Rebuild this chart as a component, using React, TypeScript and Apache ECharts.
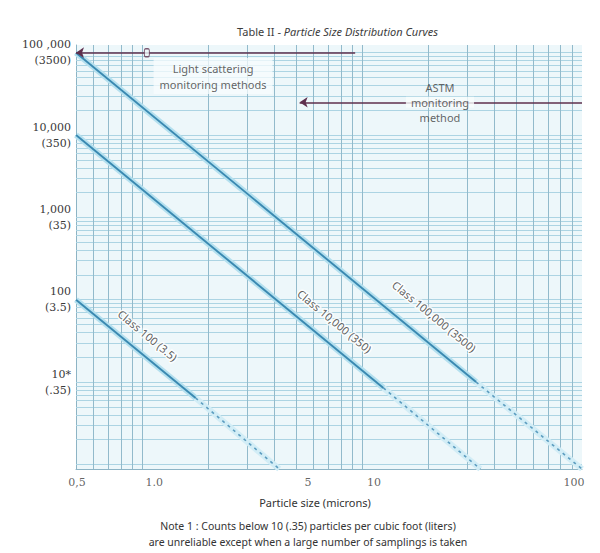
import React, { useEffect, useRef } from "react";
import * as echarts from "echarts";

// ---- data ----
const xTickValues = [0.5, 1, 5, 10, 100];
const xTickLabels = ["0,5", "1.0", "5", "10", "100"];
const yTickValues = [100000, 10000, 1000, 100, 10];
const yTickCounts = ["100 ,000", "10,000", "1,000", "100", "10*"];
const yTickLiters = ["(3500)", "(350)", "(35)", "(3.5)", "(.35)"];

const classNames = ["Class 100,000 (3500)", "Class 10,000 (350)", "Class 100 (3.5)"];
// reliable part (solid) and extrapolated part (dashed): [particle size µm, count]
const class100000Solid = [[0.5, 100000], [33, 10]];
const class100000Dashed = [[33, 10], [100, 0.88]];
const class10000Solid = [[0.5, 10000], [12.5, 8.5]];
const class10000Dashed = [[12.5, 8.5], [34.5, 0.88]];
const class100Solid = [[0.5, 100], [1.75, 6.4]];
const class100Dashed = [[1.75, 6.4], [4.2, 0.88]];
const classLabelAt = [[21.3, 63], [7.5, 55], [1.06, 37]];

// monitoring method ranges
const lightScatterRange = [9.3, 0.5]; // µm, arrow points to 0.5
const lightScatterCount = 100000;
const lightScatterMark = [1.05, 100000];
const astmRange = [100, 5.2];
const astmCount = 25000;
const lightScatterTextAt = [2.1, 52000];
const astmTextAt = [22.6, 25000];

const X_MIN = 0.5;
const X_MAX = 100;
const Y_MIN = 0.88;
const Y_MAX = 124000;

const PLOT_BG = "#edf7fa";
const SANS = "'Noto Sans', 'Open Sans', sans-serif";
const SERIF = "'DejaVu Serif', serif";
// horizontal nudges of the x tick labels, as printed in the reference
const xLabelNudge = [1, 12, 12, 12, -8];

export default function App() {
  const ref = useRef<HTMLDivElement>(null);

  useEffect(() => {
    if (!ref.current) return;
    const chart = echarts.init(ref.current, undefined, { renderer: "svg" });

    // grid lines at 1..9 of every decade (log paper)
    const xGrid: number[] = [];
    for (const d of [0.1, 1, 10]) {
      for (let m = 1; m <= 9; m++) {
        const v = +(m * d).toPrecision(3);
        if (v > X_MIN && v < X_MAX) xGrid.push(v);
      }
    }
    const yGrid: number[] = [];
    for (const d of [1, 10, 100, 1000, 10000]) {
      for (let m = 1; m <= 9; m++) yGrid.push(m * d);
    }
    yGrid.push(100000);

    const curve = (data: number[][], dashed: boolean, z: number) => [
      {
        type: "line",
        data,
        symbol: "none",
        silent: true,
        z,
        lineStyle: {
          color: dashed ? "#d2edf6" : "#b4e0ef",
          width: 6,
          type: "solid",
        },
      },
      {
        type: "line",
        data,
        symbol: "none",
        silent: true,
        z: z + 1,
        lineStyle: {
          color: dashed ? "#5b9cbf" : "#3a89b1",
          width: dashed ? 1.6 : 1.9,
          type: dashed ? [3, 4] : "solid",
        },
      },
    ];

    const option: any = {
      animation: false,
      backgroundColor: "#ffffff",
      title: {
        text: "{a|Table II - }{b|Particle Size Distribution Curves}",
        left: 232,
        top: 21,
        textStyle: {
          fontWeight: "normal",
          rich: {
            a: { fontFamily: SANS, fontSize: 11, color: "#3c3c3c", fontWeight: "normal" },
            b: {
              fontFamily: SANS,
              fontSize: 11,
              color: "#3c3c3c",
              fontStyle: "italic",
              fontWeight: "normal",
            },
          },
        },
      },
      grid: {
        left: 76,
        right: 18,
        top: 45,
        bottom: 84,
        show: true,
        backgroundColor: PLOT_BG,
        borderWidth: 0,
      },
      xAxis: {
        type: "log",
        logBase: 10,
        min: X_MIN,
        max: X_MAX,
        axisLine: { show: true, onZero: false, lineStyle: { color: "#8db4c5", width: 1 } },
        axisTick: { show: false },
        axisLabel: { show: false },
        splitLine: { show: false },
      },
      yAxis: {
        type: "log",
        logBase: 10,
        min: Y_MIN,
        max: Y_MAX,
        axisLine: { show: true, onZero: false, lineStyle: { color: "#8db4c5", width: 1 } },
        axisTick: { show: false },
        splitLine: { show: false },
        axisLabel: {
          margin: 5,
          showMaxLabel: false,
          showMinLabel: false,
          formatter: (v: number) => {
            const i = yTickValues.findIndex(
              (t) => Math.abs(Math.log10(v) - Math.log10(t)) < 0.01
            );
            if (i < 0) return "";
            return `{c|${yTickCounts[i]}}\n{l|${yTickLiters[i]}}`;
          },
          rich: {
            c: { fontFamily: SERIF, fontSize: 11, color: "#3a3a3a", lineHeight: 16, align: "right" },
            l: { fontFamily: SERIF, fontSize: 11, color: "#3a3a3a", lineHeight: 16, align: "right" },
          },
        },
      },
      series: [
        // log-paper grid
        {
          type: "line",
          data: [],
          silent: true,
          z: 1,
          markLine: {
            z: 1,
            silent: true,
            symbol: ["none", "none"],
            label: { show: false },
            animation: false,
            data: [
              ...yGrid.map((v) => ({
                yAxis: v,
                lineStyle: { color: "#acd4e3", width: 1, type: "solid" },
              })),
              ...xGrid.map((v) => ({
                xAxis: v,
                lineStyle: { color: "#92bacb", width: 1, type: "solid" },
              })),
            ],
          },
        },
        ...curve(class100000Solid, false, 3),
        ...curve(class100000Dashed, true, 3),
        ...curve(class10000Solid, false, 3),
        ...curve(class10000Dashed, true, 3),
        ...curve(class100Solid, false, 3),
        ...curve(class100Dashed, true, 3),
        // monitoring range arrows
        {
          type: "line",
          data: [],
          silent: true,
          z: 6,
          markLine: {
            z: 6,
            silent: true,
            animation: false,
            symbol: ["none", "arrow"],
            symbolSize: 8,
            label: { show: false },
            lineStyle: { color: "#5e2f4d", width: 1.6, type: "solid" },
            data: [
              [
                { coord: [lightScatterRange[0], lightScatterCount] },
                { coord: [lightScatterRange[1], lightScatterCount] },
              ],
              [
                { coord: [astmRange[0], astmCount] },
                { coord: [astmRange[1], astmCount] },
              ],
            ],
          },
        },
        {
          type: "scatter",
          data: [lightScatterMark],
          silent: true,
          z: 7,
          symbol: "roundRect",
          symbolSize: [5, 8],
          itemStyle: { color: PLOT_BG, borderColor: "#5e2f4d", borderWidth: 1.2 },
        },
        // annotations
        {
          type: "scatter",
          data: [lightScatterTextAt],
          silent: true,
          z: 8,
          symbolSize: 0,
          label: {
            show: true,
            position: "inside",
            formatter: "Light scattering\nmonitoring methods",
            fontFamily: SANS,
            fontSize: 11,
            lineHeight: 16,
            color: "#3c3c3c",
            align: "center",
            backgroundColor: "rgba(248,252,253,0.92)",
            padding: [2, 6],
          },
        },
        {
          type: "scatter",
          data: [astmTextAt],
          silent: true,
          z: 8,
          symbolSize: 0,
          label: {
            show: true,
            position: "inside",
            formatter: "{n|ASTM}\n{m|monitoring}\n{n|method}",
            rich: {
              n: { fontFamily: SANS, fontSize: 11, lineHeight: 15, color: "#3c3c3c", align: "center" },
              m: {
                fontFamily: SANS,
                fontSize: 11,
                lineHeight: 15,
                color: "#3c3c3c",
                align: "center",
                backgroundColor: "#f8fcfd",
                padding: [0, 5],
              },
            },
          },
        },
        {
          type: "scatter",
          data: classLabelAt.map((p, i) => ({ value: p, name: classNames[i] })),
          silent: true,
          z: 8,
          symbolSize: 0,
          label: {
            show: true,
            position: "inside",
            rotate: -39.5,
            formatter: (p: any) => classNames[p.dataIndex],
            fontFamily: SANS,
            fontSize: 11,
            color: "#333",
            textBorderColor: "#ffffff",
            textBorderWidth: 3,
          },
        },
        // x tick labels
        {
          type: "scatter",
          data: xTickValues.map((v, i) => ({
            value: [v, Y_MIN],
            label: { offset: [xLabelNudge[i], 0] },
          })),
          silent: true,
          z: 8,
          symbolSize: 0,
          label: {
            show: true,
            position: "bottom",
            distance: 8,
            formatter: (p: any) => xTickLabels[p.dataIndex],
            fontFamily: SERIF,
            fontSize: 11,
            color: "#3a3a3a",
          },
        },
      ],
      graphic: [
        {
          type: "text",
          x: 315,
          y: 497,
          style: {
            text: "Particle size (microns)",
            font: `11px ${SANS}`,
            fill: "#333",
            align: "center",
          },
        },
        {
          type: "text",
          x: 308,
          y: 518,
          style: {
            text:
              "Note 1 : Counts below 10 (.35) particles per cubic foot (liters)\nare unreliable except when a large number of samplings is taken",
            font: `10.5px ${SANS}`,
            lineHeight: 16,
            fill: "#333",
            align: "center",
          },
        },
      ],
    };

    chart.setOption(option);
    return () => chart.dispose();
  }, []);

  return (
    <div
      ref={ref}
      style={{ position: "fixed", left: 0, top: 0, width: 600, height: 553, background: "#fff" }}
    />
  );
}
